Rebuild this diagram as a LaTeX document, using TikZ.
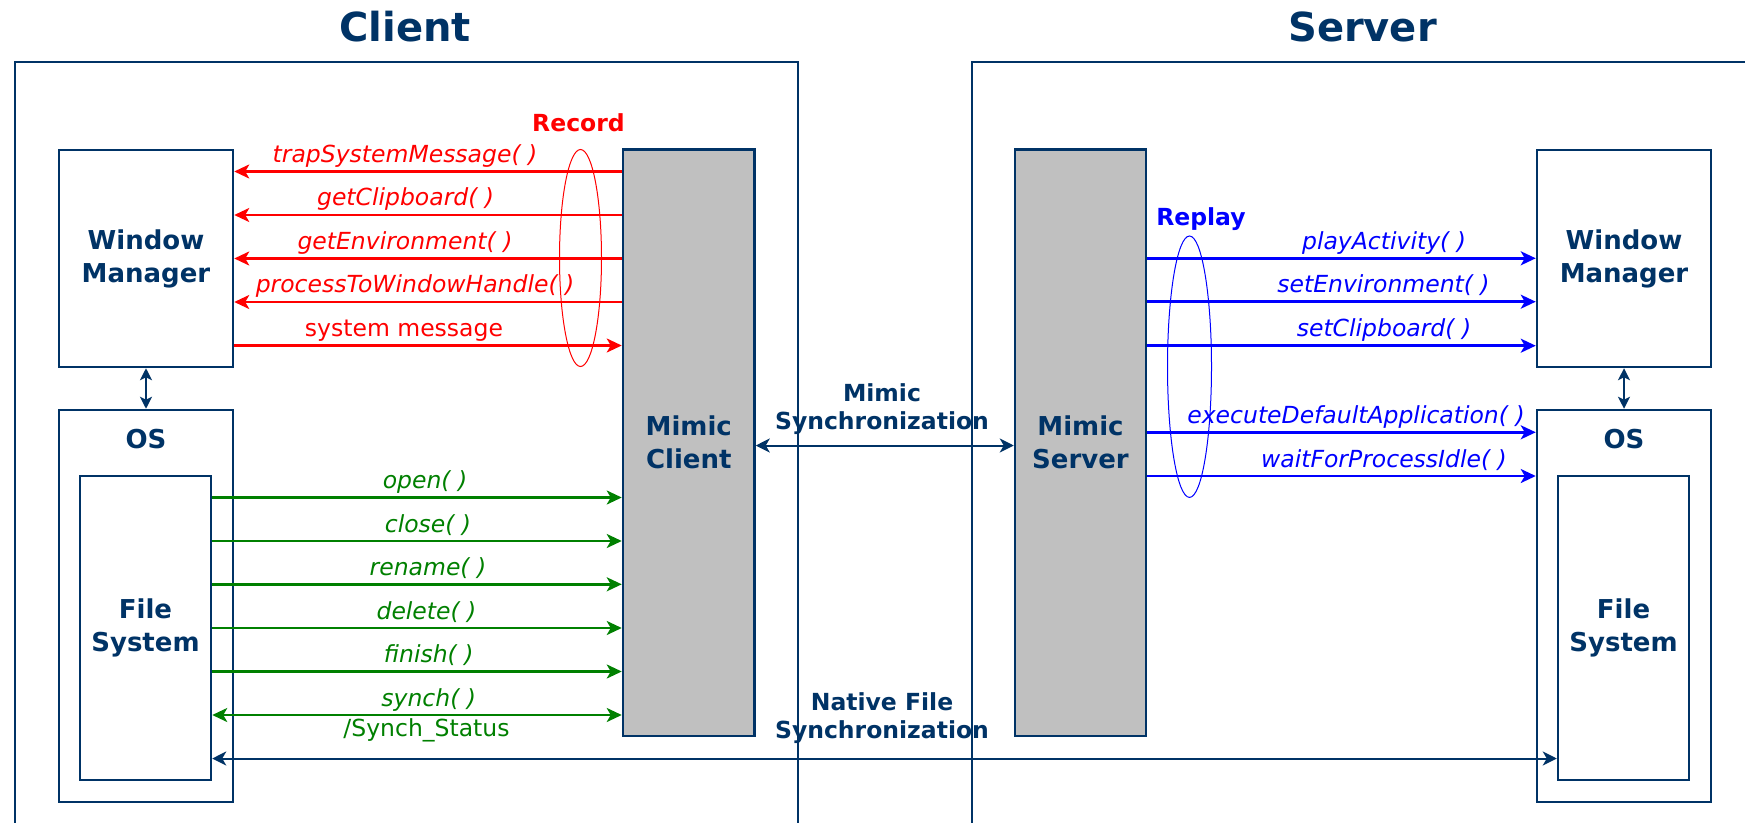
\documentclass[tikz,border=0pt]{standalone}
\usepackage{fontspec}
\setmainfont{DejaVu Sans}
\usetikzlibrary{arrows.meta}
\definecolor{navy}{RGB}{0,51,102}
\definecolor{boxgray}{RGB}{192,192,192}
\definecolor{recred}{RGB}{255,0,0}
\definecolor{repblue}{RGB}{0,0,255}
\definecolor{fsgreen}{RGB}{0,128,0}
\begin{document}
\begin{tikzpicture}[x=1pt,y=-1pt,
  frame/.style={draw=navy,line width=2pt},
  box/.style={draw=navy,line width=2.5pt,fill=white,inner sep=0pt,align=center,
    text=navy,font=\bfseries\fontsize{26}{33}\selectfont},
  mimicbox/.style={box,fill=boxgray},
  title/.style={text=navy,font=\bfseries\fontsize{40}{48}\selectfont,anchor=base,inner sep=0pt},
  boxlbl/.style={text=navy,font=\bfseries\fontsize{26}{33}\selectfont,anchor=base,inner sep=0pt},
  synclbl/.style={text=navy,font=\bfseries\fontsize{23.5}{28.5}\selectfont,align=center,inner sep=0pt},
  reclbl/.style={font=\bfseries\fontsize{23.5}{28}\selectfont,anchor=base,inner sep=0pt},
  fnlbl/.style={font=\itshape\fontsize{23.5}{28}\selectfont,anchor=base,inner sep=0pt},
  msglbl/.style={font=\fontsize{23.5}{28}\selectfont,anchor=base,inner sep=0pt},
  redarr/.style={draw=recred,line width=2.5pt,-{Stealth[length=15pt,width=14pt,inset=4pt]}},
  bluearr/.style={draw=repblue,line width=2.5pt,-{Stealth[length=15pt,width=14pt,inset=4pt]}},
  greenarr/.style={draw=fsgreen,line width=2.5pt,-{Stealth[length=15pt,width=14pt,inset=4pt]}},
  greendbl/.style={draw=fsgreen,line width=2.5pt,{Stealth[length=15pt,width=14pt,inset=4pt]}-{Stealth[length=15pt,width=14pt,inset=4pt]}},
  navydbl/.style={draw=navy,line width=2pt,{Stealth[length=14pt,width=14pt,inset=4pt]}-{Stealth[length=14pt,width=14pt,inset=4pt]}},
  smalldbl/.style={draw=navy,line width=2pt,{Stealth[length=12pt,width=12pt,inset=3pt]}-{Stealth[length=12pt,width=12pt,inset=3pt]}}
]
\useasboundingbox (0,0) rectangle (1745,822);
\clip (0,0) rectangle (1745,822);
\fill[white] (0,0) rectangle (1745,822);

% frames
\draw[frame] (15,840) -- (15,62) -- (798,62) -- (798,840);
\draw[frame] (971.6,840) -- (971.6,62) -- (1770,62);

% titles
\node[title] (tclient) at (405,41.7) {Client};
\node[title] (tserver) at (1362.5,41.7) {Server};

% client side boxes
\node[box,minimum width=174pt,minimum height=217pt] (wmL) at (146,258.5) {Window\\Manager};
\node[box,minimum width=174pt,minimum height=392pt] (osL) at (146,606) {};
\node[boxlbl] (osLt) at (146,448.3) {OS};
\node[box,minimum width=131pt,minimum height=304pt] (fsL) at (145.5,628) {File\\System};
\node[mimicbox,minimum width=131.5pt,minimum height=586.5pt] (mc) at (688.75,442.75) {Mimic\\Client};

% server side boxes
\node[mimicbox,minimum width=131pt,minimum height=586.5pt] (ms) at (1080.5,442.75) {Mimic\\Server};
\node[box,minimum width=174pt,minimum height=217pt] (wmR) at (1624,258.5) {Window\\Manager};
\node[box,minimum width=174pt,minimum height=392pt] (osR) at (1624,606) {};
\node[boxlbl] (osRt) at (1624,448.3) {OS};
\node[box,minimum width=131pt,minimum height=304pt] (fsR) at (1623.5,628) {File\\System};

% WM <-> OS
\draw[smalldbl] (wmL.south) -- (osL.north);
\draw[smalldbl] (wmR.south) -- (osR.north);

% red record arrows
\draw[redarr] (mc.west |- 0,171.5) -- (wmL.east |- 0,171.5);
\draw[redarr] (mc.west |- 0,215) -- (wmL.east |- 0,215);
\draw[redarr] (mc.west |- 0,258.5) -- (wmL.east |- 0,258.5);
\draw[redarr] (mc.west |- 0,302) -- (wmL.east |- 0,302);
\draw[redarr] (wmL.east |- 0,345.5) -- (mc.west |- 0,345.5);
\node[fnlbl,text=recred] (r1) at (405,162) {trapSystemMessage( )};
\node[fnlbl,text=recred] (r2) at (405.6,205.5) {getClipboard( )};
\node[fnlbl,text=recred] (r3) at (405,249) {getEnvironment( )};
\node[fnlbl,text=recred] (r4) at (415,292.5) {processToWindowHandle( )};
\node[msglbl,text=recred] (r5) at (404,336) {system message};
\node[reclbl,text=recred] (rec) at (578.5,131.7) {Record};
\draw[recred,line width=1pt] (580.5,258) ellipse [x radius=21pt, y radius=108.5pt];

% green file system arrows
\draw[greenarr] (fsL.east |- 0,497.5) -- (mc.west |- 0,497.5);
\draw[greenarr] (fsL.east |- 0,541) -- (mc.west |- 0,541);
\draw[greenarr] (fsL.east |- 0,584.3) -- (mc.west |- 0,584.3);
\draw[greenarr] (fsL.east |- 0,628) -- (mc.west |- 0,628);
\draw[greenarr] (fsL.east |- 0,671.5) -- (mc.west |- 0,671.5);
\draw[greendbl] (fsL.east |- 0,715) -- (mc.west |- 0,715);
\node[fnlbl,text=fsgreen] (g1) at (425,488.5) {open( )};
\node[fnlbl,text=fsgreen] (g2) at (428,532) {close( )};
\node[fnlbl,text=fsgreen] (g3) at (428,575.3) {rename( )};
\node[fnlbl,text=fsgreen] (g4) at (426.5,619) {delete( )};
\node[fnlbl,text=fsgreen] (g5) at (428.7,662.5) {finish( )};
\node[fnlbl,text=fsgreen] (g6) at (428.7,706) {synch( )};
\node[msglbl,text=fsgreen] (g7) at (426.5,736.7) {/Synch\_Status};

% blue replay arrows
\draw[bluearr] (ms.east |- 0,258.3) -- (wmR.west |- 0,258.3);
\draw[bluearr] (ms.east |- 0,301.7) -- (wmR.west |- 0,301.7);
\draw[bluearr] (ms.east |- 0,345.7) -- (wmR.west |- 0,345.7);
\draw[bluearr] (ms.east |- 0,432.3) -- (osR.west |- 0,432.3);
\draw[bluearr] (ms.east |- 0,476) -- (osR.west |- 0,476);
\node[fnlbl,text=repblue] (b1) at (1384,249.3) {playActivity( )};
\node[fnlbl,text=repblue] (b2) at (1383.5,292.7) {setEnvironment( )};
\node[fnlbl,text=repblue] (b3) at (1384,336.7) {setClipboard( )};
\node[fnlbl,text=repblue] (b4) at (1356,423) {executeDefaultApplication( )};
\node[fnlbl,text=repblue] (b5) at (1384,467) {waitForProcessIdle( )};
\node[reclbl,text=repblue] (rep) at (1201,225) {Replay};
\draw[repblue,line width=1pt] (1189.5,366.7) ellipse [x radius=22pt, y radius=130.7pt];

% synchronization arrows
\draw[navydbl] (mc.east |- 0,445.5) -- (ms.west |- 0,445.5);
\node[synclbl] (msync) at (882,409.3) {Mimic\\Synchronization};
\draw[navydbl] (fsL.east |- 0,758.5) -- (fsR.west |- 0,758.5);
\node[synclbl] (nsync) at (882,718) {Native File\\Synchronization};
\end{tikzpicture}
\end{document}
